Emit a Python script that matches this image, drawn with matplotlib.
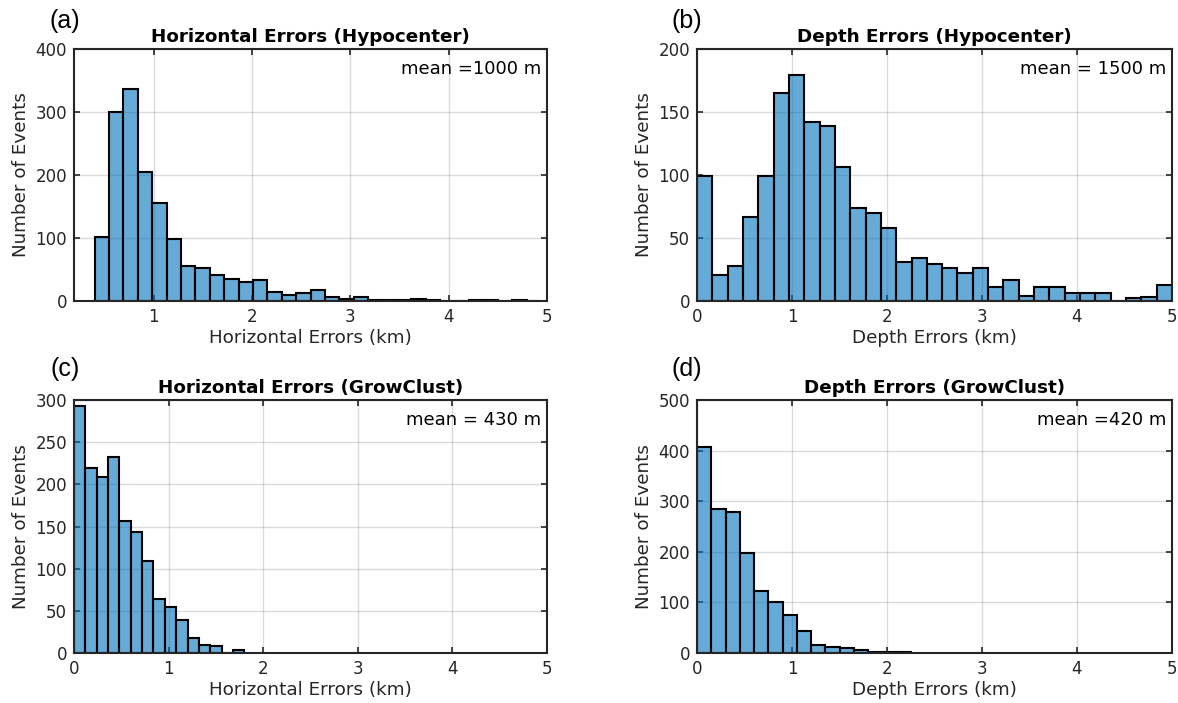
import numpy as np
import matplotlib
matplotlib.use("Agg")
import matplotlib.pyplot as plt

# histogram counts
hyp_h_counts = [102, 300, 337, 205, 155, 98, 55, 52, 42, 35, 30, 34, 14, 9, 12,
                17, 6, 3, 7, 2, 1, 1, 3, 1, 0, 0, 1, 1, 0, 1, 0]
hyp_h_start, hyp_h_width = 0.40, 0.1464

hyp_z_counts = [99, 21, 28, 67, 99, 165, 179, 142, 139, 106, 74, 70, 58, 31, 34,
                29, 26, 22, 26, 11, 17, 4, 11, 11, 6, 6, 6, 0, 2, 3, 13]
hyp_z_start, hyp_z_width = 0.0, 5 / 31

gc_h_counts = [293, 219, 209, 232, 157, 143, 109, 64, 54, 39, 18, 9, 8, 0, 4]
gc_h_start, gc_h_width = 0.0, 0.12

gc_z_counts = [407, 285, 278, 198, 122, 101, 75, 44, 16, 11, 10, 6, 1, 2, 2]
gc_z_start, gc_z_width = 0.0, 0.15

titles = ["Horizontal Errors (Hypocenter)", "Depth Errors (Hypocenter)",
          "Horizontal Errors (GrowClust)", "Depth Errors (GrowClust)"]
xlabels = ["Horizontal Errors (km)", "Depth Errors (km)",
           "Horizontal Errors (km)", "Depth Errors (km)"]
means = ["mean =1000 m", "mean = 1500 m", "mean = 430 m", "mean =420 m"]
letters = ["(a)", "(b)", "(c)", "(d)"]
ylims = [(0, 400), (0, 200), (0, 300), (0, 500)]
ysteps = [100, 50, 50, 100]
xlims = [(0.19, 5), (0, 5), (0, 5), (0, 5)]

hists = [(hyp_h_counts, hyp_h_start, hyp_h_width),
         (hyp_z_counts, hyp_z_start, hyp_z_width),
         (gc_h_counts, gc_h_start, gc_h_width),
         (gc_z_counts, gc_z_start, gc_z_width)]

W, H = 1178, 703
fig = plt.figure(figsize=(W / 100, H / 100), dpi=100)

# axes boxes in pixels: left, top, right, bottom
boxes = [(74, 49, 547, 301), (697, 49, 1172, 301),
         (74, 400, 547, 653), (697, 400, 1172, 653)]
# panel letter centres in pixels
letter_pos = [(65, 21), (687, 21), (65, 369), (687, 369)]

dark = "#262626"
face = (0.0, 0.447, 0.741, 0.6)

for i, (l, t, r, b) in enumerate(boxes):
    ax = fig.add_axes([l / W, 1 - b / H, (r - l) / W, (b - t) / H])
    counts, start, width = hists[i]
    counts = np.array(counts)
    lefts = start + width * np.arange(len(counts))
    ax.bar(lefts, counts, width=width, align="edge", color=face,
           edgecolor="black", linewidth=1.5, zorder=2)
    ax.set_xlim(xlims[i])
    ax.set_ylim(ylims[i])
    ax.set_xticks([1, 2, 3, 4, 5] if i == 0 else [0, 1, 2, 3, 4, 5])
    ax.set_yticks(np.arange(0, ylims[i][1] + 1, ysteps[i]))
    ax.set_axisbelow(True)
    ax.grid(True, color=dark, alpha=0.17, linewidth=1.0)
    ax.tick_params(direction="in", length=4, width=1.2, top=True, right=True,
                   labelsize=12, colors=dark, labelcolor=dark, pad=5)
    for s in ax.spines.values():
        s.set_linewidth(1.5)
        s.set_color(dark)
    ax.set_title(titles[i], fontsize=13.2, fontweight="bold", color="black", pad=5)
    ax.set_xlabel(xlabels[i], fontsize=13.2, color=dark, labelpad=2)
    ax.set_ylabel("Number of Events", fontsize=13.2, color=dark, labelpad=4)
    ax.text(0.988, 0.955, means[i], transform=ax.transAxes, ha="right",
            va="top", fontsize=13, color="black")
    lx, ly = letter_pos[i]
    fig.text(lx / W, 1 - ly / H, letters[i], fontsize=18,
             family="Liberation Sans", ha="center", va="center")

fig.savefig("out.png", dpi=100)
